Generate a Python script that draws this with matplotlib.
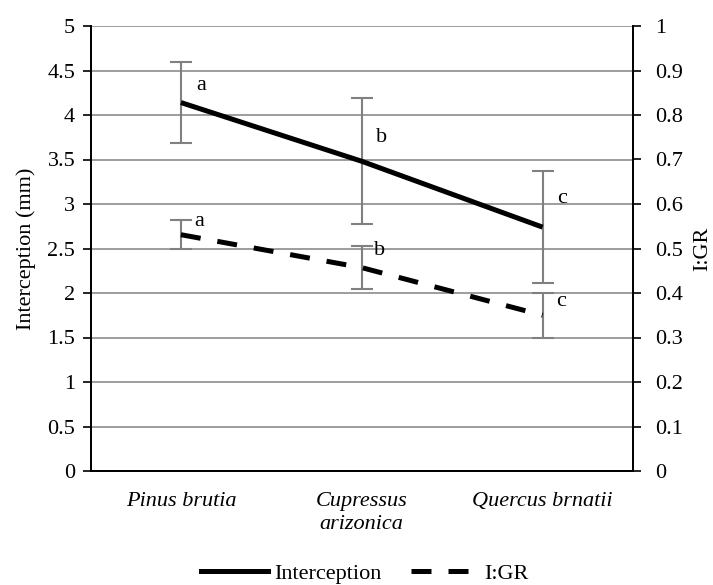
import matplotlib
matplotlib.use("Agg")
import matplotlib.pyplot as plt
from matplotlib.lines import Line2D

categories = ["Pinus brutia", "Cupressus\narizonica", "Quercus brnatii"]
interception = [4.14, 3.48, 2.74]
interception_err = [0.46, 0.71, 0.63]
igr = [0.531, 0.457, 0.350]
igr_err = [0.033, 0.048, 0.050]
int_letters = ["a", "b", "c"]
int_letter_y = [4.33, 3.75, 3.06]
igr_letters = ["a", "b", "c"]
igr_letter_y = [0.561, 0.496, 0.381]

plt.rcParams['font.family'] = ['Liberation Serif', 'DejaVu Serif']
FS = 16
LW = 3.6
DASH = (4.0, 3.4)

fig = plt.figure(figsize=(7.13, 5.85), dpi=100)
ax = fig.add_axes([90.5/713, 1-471/585, (633-90.5)/713, (471-26)/585])
ax2 = ax.twinx()

x = list(range(len(categories)))
grey = "#808080"

ax.set_xlim(-0.5, 2.5)
ax.set_ylim(0, 5)
ax2.set_ylim(0, 1)
ax.set_yticks([i*0.5 for i in range(11)])
ax.set_yticklabels(["0", "0.5", "1", "1.5", "2", "2.5", "3", "3.5", "4", "4.5", "5"], fontsize=FS)
ax2.set_yticks([i*0.1 for i in range(11)])
ax2.set_yticklabels(["0", "0.1", "0.2", "0.3", "0.4", "0.5", "0.6", "0.7", "0.8", "0.9", "1"], fontsize=FS)
ax.yaxis.grid(True, color="#8c8c8c", linewidth=1.2)
ax.set_axisbelow(True)
ax.set_xticks(x)
ax.set_xticklabels(categories, fontsize=FS, style="italic", linespacing=1.3)
ax.tick_params(axis="x", length=0, pad=15)
ax.tick_params(axis="y", length=6, width=1.2, direction="out", pad=5)
ax2.tick_params(axis="y", length=6, width=1.2, direction="out", pad=10)
for a in (ax, ax2):
    for s in a.spines.values():
        s.set_linewidth(1.3)
        s.set_color("black")
ax2.spines['top'].set_visible(False)
ax.spines['top'].set_visible(False)

ax.errorbar(x, interception, yerr=interception_err, fmt="none", ecolor=grey,
            elinewidth=1.5, capsize=8, capthick=1.5, zorder=3)
ax.plot(x, interception, color="black", linewidth=LW, solid_capstyle="butt", zorder=4)

ax2.errorbar(x, igr, yerr=igr_err, fmt="none", ecolor=grey,
             elinewidth=1.5, capsize=8, capthick=1.5, zorder=3)
ax2.plot(x, igr, color="black", linewidth=LW, dashes=DASH, zorder=4)

for xi, t, yy in zip(x, int_letters, int_letter_y):
    ax.text(xi + 0.11, yy, t, fontsize=FS, ha="center", va="center")
for xi, t, yy in zip(x, igr_letters, igr_letter_y):
    ax2.text(xi + 0.1, yy, t, fontsize=FS, ha="center", va="center")

ax.set_ylabel("Interception (mm)", fontsize=FS, labelpad=8)
fig.text(703/713, 0.5*(1-471/585) + 0.5*(1-26/585), "I:GR", fontsize=FS,
         rotation=90, ha="center", va="center")

handles = [Line2D([], [], color="black", linewidth=LW),
           Line2D([], [], color="black", linewidth=LW, dashes=DASH)]
fig.legend(handles, ["Interception", "I:GR"], loc="center",
           bbox_to_anchor=(365/713, 1-574/585), ncol=2, frameon=False,
           fontsize=FS, handlelength=3.0, columnspacing=1.3, handletextpad=0.3,
           borderpad=0.1)

fig.savefig("out.png", dpi=100)
